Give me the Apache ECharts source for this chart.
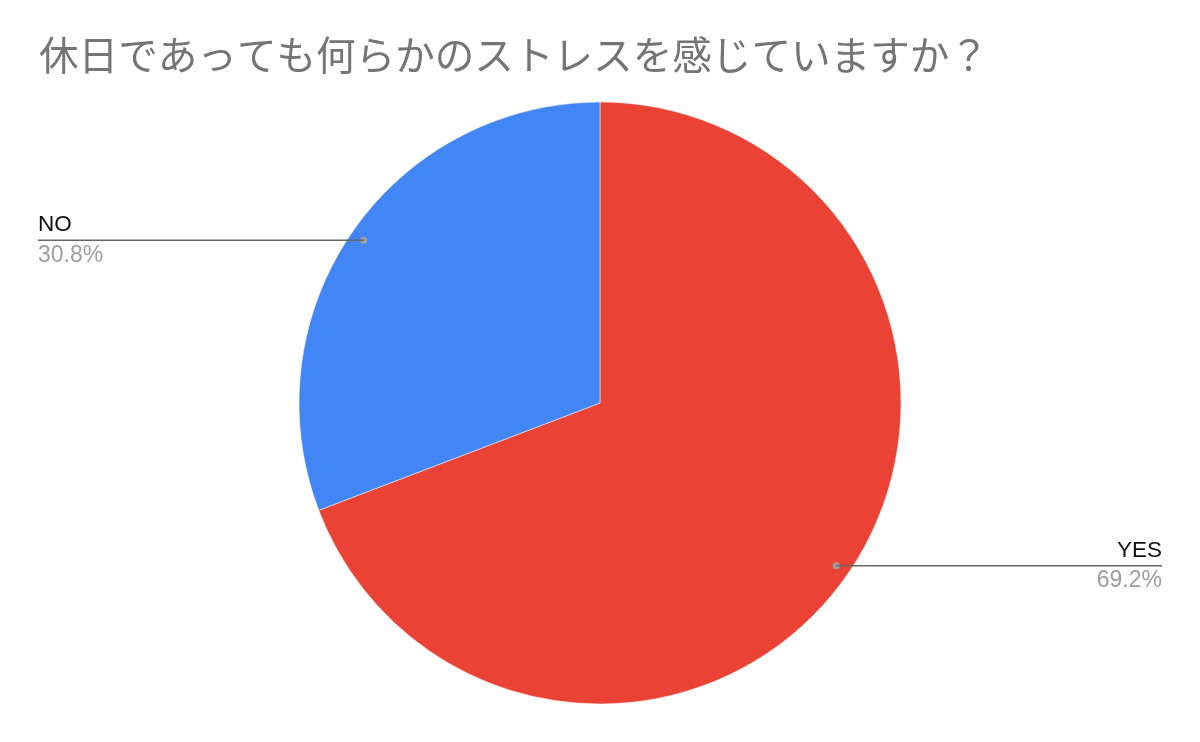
<!DOCTYPE html>
<html>
<head>
<meta charset="utf-8">
<script src="https://cdn.jsdelivr.net/npm/echarts@6/dist/echarts.min.js"></script>
<style>
  html, body { margin: 0; padding: 0; background: #fff; }
  #chart { width: 1200px; height: 742px; }
</style>
</head>
<body>
<div id="chart"></div>
<script>
const titleText = "休日であっても何らかのストレスを感じていますか？";
const categories = ["YES", "NO"];
const values = [69.2, 30.8];
const colors = ["#EA4335", "#4285F4"];

const center = [600, 403];
const radius = 301;
const dotRatio = 0.953;
const labelEdges = [1162, 38];

const total = values.reduce((a, b) => a + b, 0);
// mid angle of each slice, in percent of the circle, clockwise from top
const mids = [];
let acc = 0;
values.forEach(v => { mids.push((acc + v / 2) / total * 100); acc += v; });

const font = "Liberation Sans, Arial";

function labelFor(i) {
  const a = mids[i] / 100 * Math.PI * 2;
  const dotX = center[0] + Math.sin(a) * radius * dotRatio;
  const left = dotX < center[0];
  const w = Math.abs(dotX - labelEdges[i]);
  const al = left ? "left" : "right";
  return {
    align: al,
    rich: {
      n: { fontFamily: font, fontSize: 22.5, color: "#111", lineHeight: 29, align: al },
      l: { width: w, height: 1.5, lineHeight: 1.5, backgroundColor: "#666", align: al },
      p: { fontFamily: font, fontSize: 23, color: "#9e9e9e", lineHeight: 29, align: al }
    }
  };
}

const chart = echarts.init(document.getElementById("chart"));
const option = {
  animation: false,
  title: {
    text: titleText,
    left: 34,
    top: 30,
    textStyle: {
      fontFamily: "Noto Sans CJK JP",
      fontSize: 39.6,
      fontWeight: "normal",
      color: "#757575"
    }
  },
  polar: { center: center, radius: radius },
  angleAxis: { type: "value", min: 0, max: 100, startAngle: 90, clockwise: true, show: false },
  radiusAxis: { type: "value", min: 0, max: 1, show: false },
  series: [
    {
      type: "pie",
      center: center,
      radius: radius,
      startAngle: 90,
      clockwise: true,
      itemStyle: { borderColor: "#ffffff", borderWidth: 0.5 },
      data: categories.map((c, i) => ({ name: c, value: values[i], itemStyle: { color: colors[i] } })),
      label: { show: false },
      labelLine: { show: false }
    },
    {
      // label dots + leader lines, placed at each slice's mid angle
      type: "scatter",
      coordinateSystem: "polar",
      symbolSize: 7,
      z: 5,
      silent: true,
      itemStyle: { color: "#9e9e9e", opacity: 1 },
      data: categories.map((c, i) => ({ name: c, value: [dotRatio, mids[i]], label: labelFor(i) })),
      label: {
        show: true,
        formatter: p => "{n|" + p.name + "}\n{l|}\n{p|" + values[p.dataIndex].toFixed(1) + "%}"
      },
      labelLayout: function (params) {
        const r = params.rect;
        const dx = r.x + r.width / 2;
        const dy = r.y + r.height / 2;
        const left = dx < center[0];
        return {
          x: labelEdges[params.dataIndex],
          y: dy,
          align: left ? "left" : "right",
          verticalAlign: "middle"
        };
      }
    }
  ]
};
chart.setOption(option);
</script>
</body>
</html>
